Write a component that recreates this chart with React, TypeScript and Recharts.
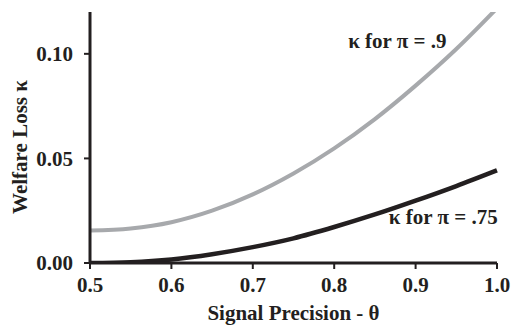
import { LineChart, Line, XAxis, YAxis, ReferenceDot, Label } from 'recharts';

const precision = [0.5, 0.55, 0.6, 0.65, 0.7, 0.75, 0.8, 0.85, 0.9, 0.95, 1.0];
const lossHigh = [0.0155, 0.0165, 0.0195, 0.025, 0.0328, 0.0428, 0.0548, 0.0688, 0.0848, 0.1023, 0.1218];
const lossLow = [0, 0.0004, 0.0017, 0.0042, 0.0076, 0.0118, 0.0172, 0.0232, 0.0298, 0.0368, 0.0443];
const xTicks = [0.5, 0.6, 0.7, 0.8, 0.9, 1.0];
const yTicks = [0, 0.05, 0.1];

const data = precision.map((p, i) => ({ p, high: lossHigh[i], low: lossLow[i] }));

const FONT = "'Liberation Serif', 'Times New Roman', Times, serif";
const INK = '#231f20';
const GREY = '#a7a9ac';

const textStyle = { fontFamily: FONT, fontWeight: 700, fontSize: 21, fill: INK };

const App = () => {
  return (
    <div style={{ position: 'absolute', left: 0, top: 0, width: 511, height: 325, background: '#fff' }}>
      <LineChart width={511} height={325} data={data} margin={{ top: 12, right: 14, bottom: 0, left: 0 }}>
        <XAxis
          dataKey="p"
          type="number"
          domain={[0.5, 1]}
          ticks={xTicks}
          tickFormatter={(v) => v.toFixed(1)}
          height={62}
          axisLine={{ stroke: INK, strokeWidth: 3 }}
          tickLine={{ stroke: INK, strokeWidth: 2 }}
          tickSize={6}
          tickMargin={8}
          tick={textStyle}
        >
          <Label value="Signal Precision - θ" position="insideBottom" offset={5} style={textStyle} />
        </XAxis>
        <YAxis
          type="number"
          domain={[0, 0.12]}
          allowDataOverflow
          ticks={yTicks}
          tickFormatter={(v) => v.toFixed(2)}
          width={90}
          axisLine={{ stroke: INK, strokeWidth: 3 }}
          tickLine={{ stroke: INK, strokeWidth: 2 }}
          tickSize={6}
          tickMargin={11}
          tick={textStyle}
        >
          <Label
            content={() => (
              <text
                x={20}
                y={147}
                transform="rotate(-90 20 147)"
                textAnchor="middle"
                dominantBaseline="central"
                style={textStyle}
              >
                Welfare Loss κ
              </text>
            )}
          />
        </YAxis>
        <Line dataKey="high" type="monotone" stroke={GREY} strokeWidth={4} dot={false} isAnimationActive={false} />
        <Line dataKey="low" type="monotone" stroke={INK} strokeWidth={4.5} dot={false} isAnimationActive={false} />
        <ReferenceDot x={0.8776} y={0.1062} r={0} fill="none" stroke="none">
          <Label value="κ for π = .9" position="center" style={textStyle} />
        </ReferenceDot>
        <ReferenceDot x={0.934} y={0.0222} r={0} fill="none" stroke="none">
          <Label value="κ for π = .75" position="center" style={textStyle} />
        </ReferenceDot>
      </LineChart>
    </div>
  );
};

export default App;
